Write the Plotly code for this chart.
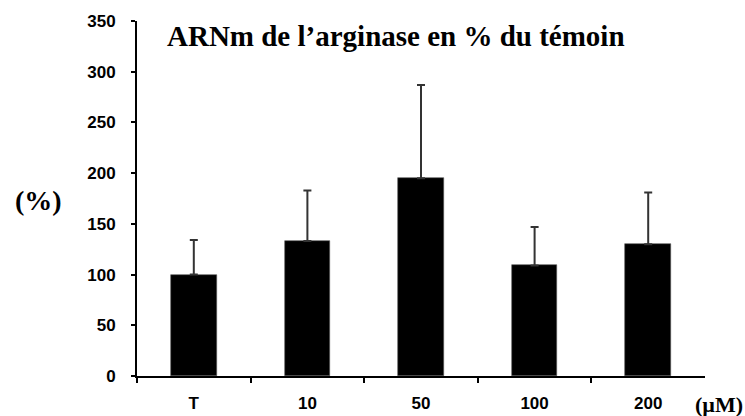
import plotly.graph_objects as go

# Arginase mRNA expression relative to control (%), mean + SD per concentration
categories = ["T", "10", "50", "100", "200"]
values = [100, 133, 195, 109, 130]
errors = [34, 50, 92, 38, 51]
y_ticks = [0, 50, 100, 150, 200, 250, 300, 350]

positions = list(range(len(categories)))
boundaries = [p - 0.5 for p in positions]

fig = go.Figure(
    go.Bar(
        x=positions,
        y=values,
        width=0.4,
        marker=dict(color="black", line=dict(color="#555555", width=0.6)),
        error_y=dict(
            type="data",
            symmetric=False,
            array=errors,
            arrayminus=[0] * len(errors),
            color="#333333",
            thickness=2,
            width=4,
        ),
    )
)

tick_font = dict(family="Liberation Sans, Arial, sans-serif", size=17,
                 color="black", weight="bold")

fig.update_layout(
    width=745,
    height=416,
    margin=dict(l=137, r=40, t=21, b=40),
    paper_bgcolor="white",
    plot_bgcolor="white",
    showlegend=False,
    bargap=0,
    xaxis=dict(
        range=[-0.5, len(categories) - 0.5],
        tickvals=positions,
        ticktext=categories,
        ticks="",
        showgrid=False,
        zeroline=False,
        showline=True,
        linecolor="black",
        linewidth=2,
        tickfont=tick_font,
        ticklabelstandoff=11,
        automargin=False,
        minor=dict(
            tickvals=boundaries,
            ticks="outside",
            ticklen=5,
            tickwidth=2,
            tickcolor="black",
            showgrid=False,
        ),
    ),
    yaxis=dict(
        range=[0, 350],
        tickvals=y_ticks,
        ticks="outside",
        ticklen=4,
        tickwidth=2,
        tickcolor="black",
        showgrid=False,
        zeroline=False,
        showline=True,
        linecolor="black",
        linewidth=2,
        tickfont=tick_font,
        ticklabelstandoff=12,
        automargin=False,
    ),
)

serif = "Liberation Serif, Times New Roman, serif"

fig.add_annotation(
    text="<b>ARNm de l’arginase en % du témoin</b>",
    xref="paper", yref="paper", x=0.049, y=0.958,
    xanchor="left", yanchor="middle",
    showarrow=False,
    font=dict(family=serif, size=29, color="black"),
)
fig.add_annotation(
    text="<b>(%)</b>",
    xref="paper", yref="paper", x=-0.174, y=0.495,
    xanchor="center", yanchor="middle",
    showarrow=False,
    font=dict(family=serif, size=28, color="black"),
)
fig.add_annotation(
    text="<b>(µM)</b>",
    xref="paper", yref="paper", x=1.068, y=-0.081,
    xanchor="right", yanchor="middle",
    showarrow=False,
    borderpad=0,
    font=dict(family=serif, size=22, color="black"),
)

fig.write_html("out.html")
